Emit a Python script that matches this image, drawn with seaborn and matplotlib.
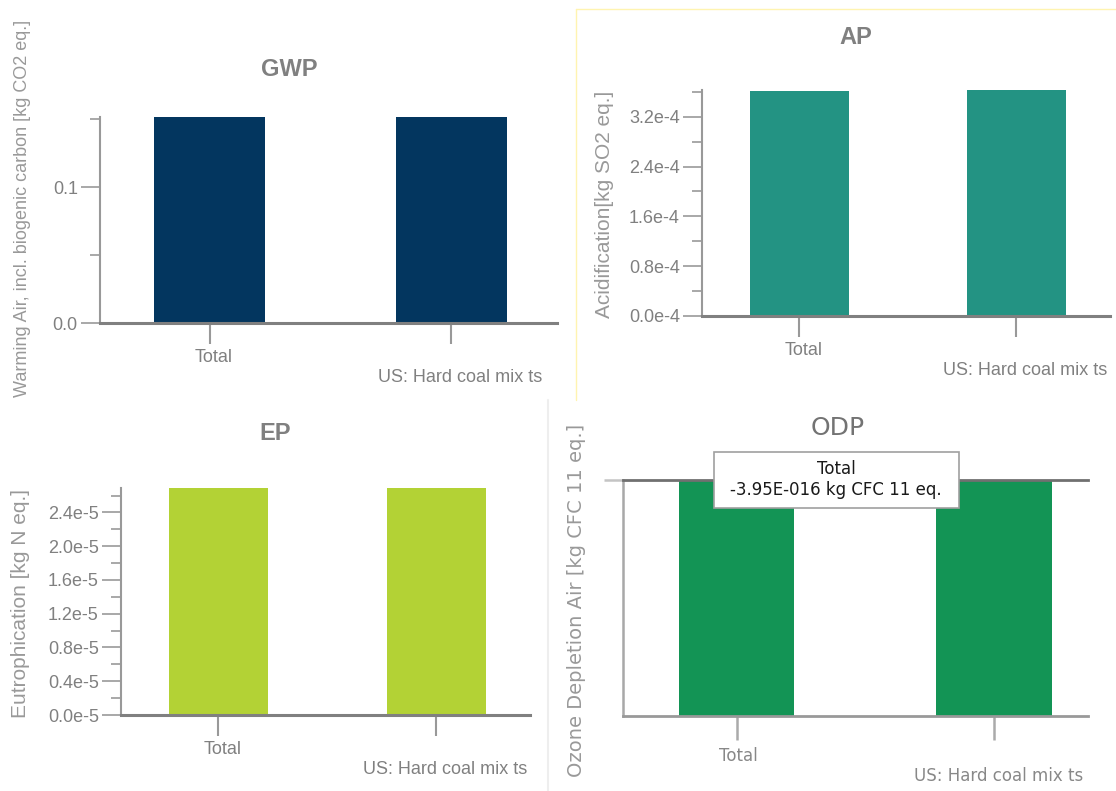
import matplotlib
matplotlib.use("Agg")
import matplotlib.pyplot as plt
import seaborn as sns
from matplotlib.patches import Rectangle
from matplotlib.lines import Line2D
from matplotlib.transforms import ScaledTranslation
from matplotlib.ticker import MultipleLocator, FuncFormatter

# chart data
categories = ["Total", "US: Hard coal mix ts"]
gwp_values = [0.152, 0.152]
ap_values = [3.62e-4, 3.64e-4]
ep_values = [2.69e-5, 2.69e-5]
odp_values = [-3.95e-16, -3.95e-16]
odp_tooltip = ["Total", "-3.95E-016 kg CFC 11 eq."]

W, H = 1116, 791
sns.set_theme(style="white")
plt.rcParams["font.family"] = ["Liberation Sans", "DejaVu Sans"]

fig = plt.figure(figsize=(W / 100, H / 100), dpi=100)
fig.patch.set_facecolor("white")

GRAY = "#808080"


def px_axes(left, top, right, bottom):
    return fig.add_axes([left / W, 1 - bottom / H, (right - left) / W, (bottom - top) / H])


def px_text(x, y, s, **kw):
    return fig.text(x / W, 1 - y / H, s, **kw)


def bar_panel(ax, values, color, xlim, width, ylim):
    sns.barplot(x=categories, y=values, color=color, saturation=1, width=width,
                errorbar=None, linewidth=0, ax=ax)
    ax.set_xlim(*xlim)
    ax.set_ylim(*ylim)
    ax.set_xlabel("")
    ax.set_ylabel("")
    ax.set_xticks([0, 1])


def set_categories(ax, family, shifts=(4, 9)):
    # second label sits one line lower, both nudged a bit to the right
    labels = ax.set_xticklabels([categories[0], "\n" + categories[1]], fontfamily=family)
    for lbl, dx in zip(labels, shifts):
        lbl.set_transform(lbl.get_transform() + ScaledTranslation(dx / 100, 0, fig.dpi_scale_trans))


def style_axes(ax, major, minor, fmt, family="Liberation Sans", size=13):
    for s in ["top", "right"]:
        ax.spines[s].set_visible(False)
    ax.spines["left"].set_color("#999999")
    ax.spines["left"].set_linewidth(1.5)
    ax.spines["bottom"].set_color(GRAY)
    ax.spines["bottom"].set_linewidth(2.2)
    ax.yaxis.set_major_locator(MultipleLocator(major))
    ax.yaxis.set_minor_locator(MultipleLocator(minor))
    ax.yaxis.set_major_formatter(FuncFormatter(fmt))
    ax.tick_params(axis="y", which="major", left=True, direction="out", length=13.5,
                   width=1.2, color="#999999", pad=2.5, labelsize=size, labelcolor=GRAY)
    ax.tick_params(axis="y", which="minor", left=True, direction="out", length=7,
                   width=1.2, color="#999999")
    ax.tick_params(axis="x", bottom=True, direction="out", length=15, width=1.5,
                   color="#999999", pad=4, labelsize=size, labelcolor=GRAY)
    for lbl in ax.get_yticklabels():
        lbl.set_fontfamily(family)
    set_categories(ax, family)


# GWP
ax1 = px_axes(100, 117, 557, 323)
bar_panel(ax1, gwp_values, "#03365f", (-0.4525, 1.436), 0.459, (0, 0.1515))
style_axes(ax1, 0.1, 0.05, lambda v, p: f"{v:.1f}")
px_text(289, 69, "GWP", ha="center", va="center", fontsize=17, fontweight="bold", color=GRAY)
px_text(23, 397, "Warming Air, incl. biogenic carbon [kg CO2 eq.]", rotation=90,
        ha="center", va="bottom", fontsize=13, color="#999999")

# AP
fig.add_artist(Line2D([576 / W, 576 / W], [1 - 9 / H, 1 - 400 / H], color="#fff4b0", lw=1))
fig.add_artist(Line2D([576 / W, 1], [1 - 9 / H, 1 - 9 / H], color="#fff4b0", lw=1))
ax2 = px_axes(702, 90, 1110, 316)
bar_panel(ax2, ap_values, "#239383", (-0.449, 1.431), 0.456, (0, 3.63e-4))
style_axes(ax2, 0.8e-4, 0.4e-4, lambda v, p: f"{v * 1e4:.1f}e-4")
px_text(856, 37, "AP", ha="center", va="center", fontsize=17, fontweight="bold", color=GRAY)
px_text(605, 318, "Acidification[kg SO2 eq.]", rotation=90,
        ha="center", va="bottom", fontsize=15, color="#999999")

# EP
fig.add_artist(Line2D([548 / W, 548 / W], [0, 1 - 400 / H], color="#eeeeee", lw=1.5))
ax3 = px_axes(121, 488, 530, 715)
bar_panel(ax3, ep_values, "#b3d235", (-0.447, 1.429), 0.454, (0, 2.69e-5))
style_axes(ax3, 0.4e-5, 0.2e-5, lambda v, p: f"{v * 1e5:.1f}e-5")
px_text(275, 433, "EP", ha="center", va="center", fontsize=17, fontweight="bold", color=GRAY)
px_text(21, 718, "Eutrophication [kg N eq.]", rotation=90,
        ha="center", va="bottom", fontsize=15, color="#999999")

# ODP
ax4 = px_axes(623, 480, 1088, 716)
bar_panel(ax4, odp_values, "#139455", (-0.441, 1.365), 0.447, (-3.95e-16, 0))
ax4.spines["right"].set_visible(False)
ax4.spines["top"].set_color("#707070")
ax4.spines["top"].set_linewidth(2)
ax4.spines["left"].set_color("#a8a8a8")
ax4.spines["left"].set_linewidth(1.8)
ax4.spines["bottom"].set_color("#999999")
ax4.spines["bottom"].set_linewidth(2)
ax4.set_yticks([0])
ax4.set_yticklabels([])
ax4.tick_params(axis="y", left=True, direction="out", length=13.5, width=1.8, color="#c4c4c4")
ax4.tick_params(axis="x", bottom=True, direction="out", length=17, width=1.8,
                color="#aaaaaa", pad=5, labelsize=12, labelcolor="#888888")
set_categories(ax4, "DejaVu Sans", shifts=(2, 5))
px_text(838, 428, "ODP", ha="center", va="center", fontsize=18, color="#737373",
        fontfamily="DejaVu Sans")
px_text(576, 777, "Ozone Depletion Air [kg CFC 11 eq.]", rotation=90,
        ha="center", va="bottom", fontsize=14, color="#999999", fontfamily="DejaVu Sans")

# tooltip on ODP
fig.add_artist(Rectangle((714 / W, 1 - 508 / H), 245 / W, 56 / H, facecolor="white",
                         edgecolor="#a0a0a0", lw=1.2, zorder=5))
px_text(836, 469, odp_tooltip[0], ha="center", va="center", fontsize=12,
        color="#1a1a1a", fontfamily="DejaVu Sans", zorder=6)
px_text(836, 490, odp_tooltip[1], ha="center", va="center", fontsize=12,
        color="#1a1a1a", fontfamily="DejaVu Sans", zorder=6)

fig.savefig("out.png", dpi=100)
